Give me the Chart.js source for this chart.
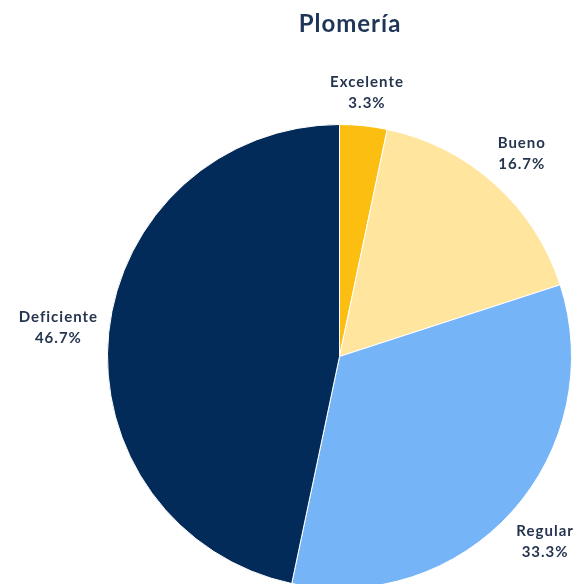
<!DOCTYPE html>
<html>
<head>
<meta charset="utf-8">
<script src="https://cdn.jsdelivr.net/npm/chart.js@4"></script>
<style>
    html, body { margin: 0; padding: 0; background: #fff; overflow: hidden; }
    #wrap { position: relative; width: 579px; height: 650px; }
</style>
</head>
<body>
<div id="wrap"><canvas id="pieChart"></canvas></div>
<script>
const title = 'Plomería';
const categories = ['Excelente', 'Bueno', 'Regular', 'Deficiente'];
const percentages = [3.3, 16.7, 33.3, 46.7];
const colors = ['#FDBE12', '#FFE59E', '#75B4F6', '#032B5A'];

const ctx = document.getElementById('pieChart').getContext('2d');

// title and outside labels drawn after the slices
const pieLabels = {
    id: 'pieLabels',
    afterDraw(chart) {
        const c = chart.ctx;
        c.save();
        c.fillStyle = '#1f3557';
        c.textAlign = 'center';
        c.textBaseline = 'middle';
        c.letterSpacing = '1px';
        c.font = 'bold 24px Lato';
        c.fillText(title, 350, 24);

        c.font = 'bold 15px Lato';
        c.fillStyle = '#26354f';
        const gap = 9;
        const lineH = 21;
        chart.getDatasetMeta(0).data.forEach((arc, i) => {
            const p = arc.getProps(['x', 'y', 'startAngle', 'endAngle', 'outerRadius'], true);
            const a = (p.startAngle + p.endAngle) / 2;
            const ux = Math.cos(a), uy = Math.sin(a);
            const lines = [categories[i], percentages[i].toFixed(1) + '%'];
            const w = Math.max(...lines.map(t => c.measureText(t).width));
            const h = lineH * 2;
            const d = p.outerRadius + gap + Math.abs(ux) * w / 2 + Math.abs(uy) * h / 2;
            const cx = p.x + ux * d;
            const cy = p.y + uy * d;
            c.fillText(lines[0], cx, cy - lineH / 2);
            c.fillText(lines[1], cx, cy + lineH / 2);
        });
        c.restore();
    }
};

new Chart(ctx, {
    type: 'pie',
    data: {
        labels: categories,
        datasets: [{
            data: percentages,
            backgroundColor: colors,
            borderColor: '#ffffff',
            borderWidth: 1
        }]
    },
    options: {
        responsive: true,
        maintainAspectRatio: false,
        animation: false,
        layout: {
            padding: { left: 107, right: 7, top: 124, bottom: 61 }
        },
        plugins: {
            legend: { display: false },
            tooltip: { enabled: false }
        }
    },
    plugins: [pieLabels]
});
</script>
</body>
</html>
